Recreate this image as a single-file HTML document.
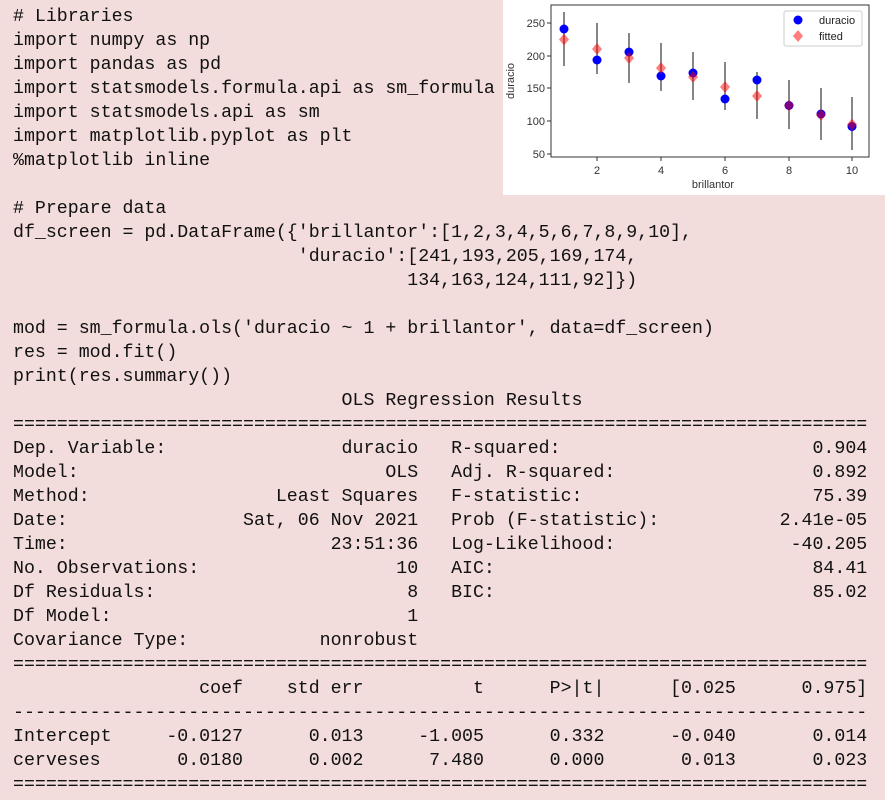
<!DOCTYPE html>
<html><head><meta charset="utf-8"><style>
html,body{margin:0;padding:0;}
body{width:885px;height:800px;background:#f2dcdc;position:relative;overflow:hidden;}
pre{position:absolute;left:13px;top:5px;margin:0;font-family:"Liberation Mono",monospace;font-size:18.25px;line-height:24px;color:#111;}
svg{position:absolute;left:503px;top:0;}
</style></head><body>
<pre># Libraries
import numpy as np
import pandas as pd
import statsmodels.formula.api as sm_formula
import statsmodels.api as sm
import matplotlib.pyplot as plt
%matplotlib inline

# Prepare data
df_screen = pd.DataFrame({'brillantor':[1,2,3,4,5,6,7,8,9,10],
                          'duracio':[241,193,205,169,174,
                                    134,163,124,111,92]})

mod = sm_formula.ols('duracio ~ 1 + brillantor', data=df_screen)
res = mod.fit()
print(res.summary())
                              OLS Regression Results
==============================================================================
Dep. Variable:                duracio   R-squared:                       0.904
Model:                            OLS   Adj. R-squared:                  0.892
Method:                 Least Squares   F-statistic:                     75.39
Date:                Sat, 06 Nov 2021   Prob (F-statistic):           2.41e-05
Time:                        23:51:36   Log-Likelihood:                -40.205
No. Observations:                  10   AIC:                             84.41
Df Residuals:                       8   BIC:                             85.02
Df Model:                           1
Covariance Type:            nonrobust
==============================================================================
                 coef    std err          t      P>|t|      [0.025      0.975]
------------------------------------------------------------------------------
Intercept     -0.0127      0.013     -1.005      0.332      -0.040       0.014
cerveses       0.0180      0.002      7.480      0.000       0.013       0.023
==============================================================================</pre>
<svg width="382" height="195" viewBox="0 0 382 195" font-family="Liberation Sans, sans-serif">
<rect width="382" height="195" fill="#fff"/>
<rect x="48" y="5" width="318" height="152" fill="none" stroke="#333" stroke-width="1"/>
<g stroke="#333">
<line x1="44" y1="23" x2="48" y2="23"/><line x1="44" y1="56" x2="48" y2="56"/><line x1="44" y1="88" x2="48" y2="88"/><line x1="44" y1="121" x2="48" y2="121"/><line x1="44" y1="154" x2="48" y2="154"/>
<line x1="94" y1="157" x2="94" y2="161"/><line x1="158" y1="157" x2="158" y2="161"/><line x1="222" y1="157" x2="222" y2="161"/><line x1="286" y1="157" x2="286" y2="161"/><line x1="349" y1="157" x2="349" y2="161"/>
</g>
<g font-size="11" fill="#333" text-anchor="end">
<text x="42" y="27">250</text><text x="42" y="60">200</text><text x="42" y="92">150</text><text x="42" y="125">100</text><text x="42" y="158">50</text>
</g>
<g font-size="11" fill="#333" text-anchor="middle">
<text x="94" y="174">2</text><text x="158" y="174">4</text><text x="222" y="174">6</text><text x="286" y="174">8</text><text x="349" y="174">10</text>
<text x="210" y="188">brillantor</text>
<text transform="translate(11,81) rotate(-90)">duracio</text>
</g>
<g stroke="#222" stroke-width="1.1">
<line x1="61" y1="12" x2="61" y2="66"/><line x1="94" y1="23" x2="94" y2="74"/><line x1="126" y1="33" x2="126" y2="83"/><line x1="158" y1="43" x2="158" y2="91"/><line x1="190" y1="52" x2="190" y2="100"/><line x1="222" y1="62" x2="222" y2="110"/><line x1="254" y1="72" x2="254" y2="119"/><line x1="286" y1="80" x2="286" y2="129"/><line x1="318" y1="88" x2="318" y2="140"/><line x1="349" y1="97" x2="349" y2="150"/>
</g>
<g fill="#00f">
<circle cx="61" cy="29" r="4.5"/><circle cx="94" cy="60" r="4.5"/><circle cx="126" cy="52" r="4.5"/><circle cx="158" cy="76" r="4.5"/><circle cx="190" cy="73" r="4.5"/><circle cx="222" cy="99" r="4.5"/><circle cx="254" cy="80" r="4.5"/><circle cx="286" cy="105.5" r="4.5"/><circle cx="318" cy="114" r="4.5"/><circle cx="349" cy="126.5" r="4.5"/>
</g>
<g fill="#f00" fill-opacity="0.5">
<path d="M61 45.5l5 -6 -5 -6 -5 6z"/><path d="M94 55l5 -6 -5 -6 -5 6z"/><path d="M126 64l5 -6 -5 -6 -5 6z"/><path d="M158 74l5 -6 -5 -6 -5 6z"/><path d="M190 83l5 -6 -5 -6 -5 6z"/><path d="M222 93l5 -6 -5 -6 -5 6z"/><path d="M254 102l5 -6 -5 -6 -5 6z"/><path d="M286 111.5l5 -6 -5 -6 -5 6z"/><path d="M318 121l5 -6 -5 -6 -5 6z"/><path d="M349 130.5l5 -6 -5 -6 -5 6z"/>
</g>
<rect x="281" y="11" width="78" height="35" rx="2" fill="#fff" stroke="#ccc"/>
<circle cx="295" cy="20" r="4.5" fill="#00f"/>
<path d="M295 42l5 -6 -5 -6 -5 6z" fill="#f00" fill-opacity="0.5"/>
<g font-size="11" fill="#222"><text x="316" y="24">duracio</text><text x="316" y="40">fitted</text></g>
</svg>
</body></html>
